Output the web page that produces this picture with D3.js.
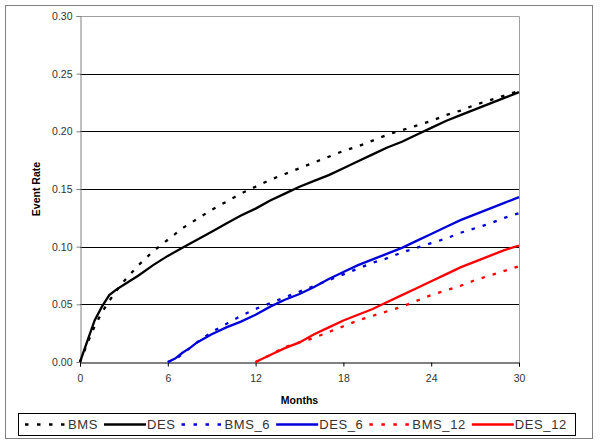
<!DOCTYPE html>
<html>
<head>
<meta charset="utf-8">
<script src="https://cdn.jsdelivr.net/npm/d3@7"></script>
<style>
  body { margin: 0; background: #fff; }
  svg { display: block; font-family: "Liberation Sans", Arial, sans-serif; }
</style>
</head>
<body>
<svg width="600" height="445"></svg>
<script>
// months and rates
const monthsBase = [0, 0.5, 1, 1.5, 2, 2.5, 3, 4, 5, 6, 7, 8, 9, 10, 11, 12, 13, 14, 15, 16, 17, 18, 19, 20, 21, 22, 23, 24, 25, 26, 27, 28, 29, 30];
const bmsValues  = [0, 0.016, 0.031, 0.043, 0.053, 0.062, 0.070, 0.084, 0.096, 0.106, 0.116, 0.124, 0.132, 0.139, 0.146, 0.152, 0.158, 0.163, 0.168, 0.173, 0.178, 0.183, 0.187, 0.192, 0.197, 0.201, 0.205, 0.209, 0.214, 0.218, 0.223, 0.227, 0.231, 0.235];
const desValues  = [0, 0.018, 0.036, 0.048, 0.058, 0.063, 0.067, 0.075, 0.084, 0.092, 0.099, 0.106, 0.113, 0.120, 0.127, 0.133, 0.140, 0.146, 0.152, 0.157, 0.162, 0.168, 0.174, 0.180, 0.186, 0.191, 0.197, 0.203, 0.209, 0.214, 0.219, 0.224, 0.229, 0.234];

const months6   = [6, 6.5, 7, 7.5, 8, 9, 10, 11, 12, 13, 14, 15, 16, 17, 18, 19, 20, 21, 22, 23, 24, 25, 26, 27, 28, 29, 30];
const bms6Values = [0, 0.002, 0.007, 0.012, 0.017, 0.026, 0.033, 0.040, 0.046, 0.051, 0.056, 0.061, 0.066, 0.071, 0.076, 0.081, 0.086, 0.090, 0.095, 0.099, 0.103, 0.107, 0.112, 0.116, 0.120, 0.125, 0.129];
const des6Values = [0, 0.003, 0.008, 0.012, 0.017, 0.024, 0.030, 0.035, 0.041, 0.048, 0.054, 0.059, 0.065, 0.072, 0.078, 0.084, 0.089, 0.094, 0.099, 0.105, 0.111, 0.117, 0.123, 0.128, 0.133, 0.138, 0.143];

const months12    = [12, 13, 14, 15, 16, 17, 18, 19, 20, 21, 22, 23, 24, 25, 26, 27, 28, 29, 30];
const bms12Values = [0, 0.006, 0.013, 0.017, 0.021, 0.026, 0.031, 0.036, 0.040, 0.044, 0.048, 0.053, 0.058, 0.062, 0.066, 0.071, 0.075, 0.079, 0.083];
const des12Values = [0, 0.006, 0.012, 0.017, 0.024, 0.030, 0.036, 0.041, 0.046, 0.052, 0.058, 0.064, 0.070, 0.076, 0.082, 0.087, 0.092, 0.097, 0.101];

const xTicks = [0, 6, 12, 18, 24, 30];
const yTicks = [0, 0.05, 0.10, 0.15, 0.20, 0.25, 0.30];

const seriesList = [
  { name: "BMS",    x: monthsBase, y: bmsValues,   color: "#000000", dashed: true },
  { name: "DES",    x: monthsBase, y: desValues,   color: "#000000", dashed: false },
  { name: "BMS_6",  x: months6,    y: bms6Values,  color: "#0000d8", dashed: true },
  { name: "DES_6",  x: months6,    y: des6Values,  color: "#0000d8", dashed: false },
  { name: "BMS_12", x: months12,   y: bms12Values, color: "#ff0000", dashed: true },
  { name: "DES_12", x: months12,   y: des12Values, color: "#ff0000", dashed: false }
];

const DASH = '3.5,8';

const svg = d3.select('svg');

// outer chart border
svg.append('rect')
  .attr('x', 5.5).attr('y', 5.5)
  .attr('width', 587).attr('height', 433)
  .attr('fill', 'none')
  .attr('stroke', '#808080');

const plotLeft = 80, plotTop = 16, plotRight = 519, plotBottom = 362;

const xScale = d3.scaleLinear().domain([0, 30]).range([plotLeft, plotRight]);
const yScale = d3.scaleLinear().domain([0, 0.30]).range([plotBottom, plotTop]);

// gridlines
svg.append('g')
  .selectAll('line')
  .data(yTicks.filter(d => d > 0 && d < 0.30))
  .enter()
  .append('line')
  .attr('x1', plotLeft).attr('x2', plotRight)
  .attr('y1', d => Math.round(yScale(d)) + 0.5)
  .attr('y2', d => Math.round(yScale(d)) + 0.5)
  .attr('stroke', '#000')
  .attr('stroke-width', 1);

// plot area frame (top and right)
svg.append('path')
  .attr('d', `M${plotLeft},${plotTop + 0.5}H${plotRight + 0.5}V${plotBottom}`)
  .attr('fill', 'none')
  .attr('stroke', '#a0a0a0');

// y axis
const yAxis = d3.axisLeft(yScale)
  .tickValues(yTicks)
  .tickFormat(d3.format('.2f'))
  .tickSize(4)
  .tickPadding(4);
const yG = svg.append('g')
  .attr('transform', `translate(${plotLeft + 0.5},0)`)
  .call(yAxis);
yG.select('.domain').attr('stroke', '#808080');
yG.selectAll('.tick line').attr('stroke', '#808080');
yG.selectAll('.tick text')
  .attr('font-size', 10.5)
  .attr('font-family', '"Liberation Sans", Arial, sans-serif')
  .attr('fill', '#333');

// x axis
const xAxis = d3.axisBottom(xScale)
  .tickValues(xTicks)
  .tickSize(4)
  .tickPadding(8);
const xG = svg.append('g')
  .attr('transform', `translate(0,${plotBottom + 0.5})`)
  .call(xAxis);
xG.select('.domain').attr('stroke', '#000');
xG.selectAll('.tick line').attr('stroke', '#000');
xG.selectAll('.tick text')
  .attr('font-size', 10.5)
  .attr('font-family', '"Liberation Sans", Arial, sans-serif')
  .attr('fill', '#333');

// axis titles
svg.append('text')
  .attr('x', (plotLeft + plotRight) / 2)
  .attr('y', 404)
  .attr('text-anchor', 'middle')
  .attr('font-size', 10.5)
  .attr('font-weight', 'bold')
  .text('Months');

svg.append('text')
  .attr('transform', `translate(40,${(plotTop + plotBottom) / 2}) rotate(-90)`)
  .attr('text-anchor', 'middle')
  .attr('font-size', 10.5)
  .attr('font-weight', 'bold')
  .text('Event Rate');

// series lines
const line = d3.line()
  .x(d => xScale(d[0]))
  .y(d => yScale(d[1]));

seriesList.forEach(s => {
  const pts = s.x.map((m, i) => [m, s.y[i]]);
  svg.append('path')
    .datum(pts)
    .attr('d', line)
    .attr('fill', 'none')
    .attr('stroke', s.color)
    .attr('stroke-width', 2.3)
    .attr('stroke-dasharray', s.dashed ? DASH : null);
});

// legend
const legend = svg.append('g');
legend.append('rect')
  .attr('x', 18.5).attr('y', 413.5)
  .attr('width', 557).attr('height', 22)
  .attr('fill', '#fff')
  .attr('stroke', '#000');

let cursor = 25;
seriesList.forEach(s => {
  legend.append('line')
    .attr('x1', cursor).attr('x2', cursor + 42)
    .attr('y1', 424.5).attr('y2', 424.5)
    .attr('stroke', s.color)
    .attr('stroke-width', 2.3)
    .attr('stroke-dasharray', s.dashed ? '3.5,8.5' : null);
  const t = legend.append('text')
    .attr('x', cursor + 43)
    .attr('y', 429)
    .attr('font-size', 13)
    .attr('letter-spacing', 0.6)
    .attr('fill', '#333')
    .text(s.name);
  cursor += 43 + t.node().getComputedTextLength() + 6;
});
</script>
</body>
</html>
